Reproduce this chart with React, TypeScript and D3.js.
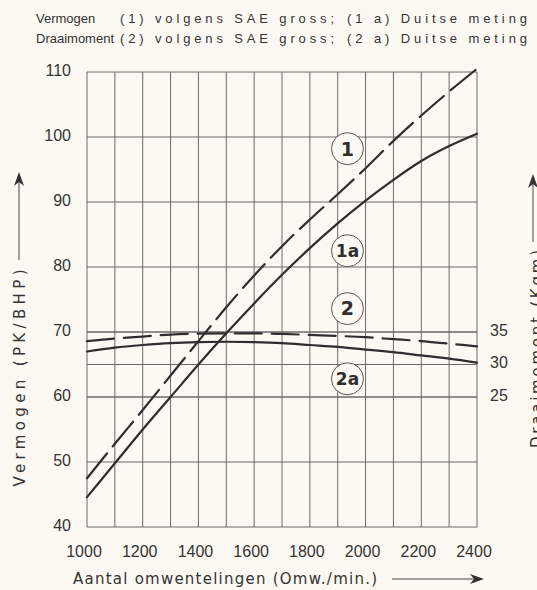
import React, { useEffect } from 'react';
import * as d3 from 'd3';

// rpm grid (every 100 omw./min.)
const rpm = [1000, 1100, 1200, 1300, 1400, 1500, 1600, 1700, 1800, 1900, 2000, 2100, 2200, 2300, 2400];
const rpmLabels = [1000, 1200, 1400, 1600, 1800, 2000, 2200, 2400];
const pkTicks = [40, 50, 60, 70, 80, 90, 100, 110];
const kgmTicks = [25, 30, 35];

// (1) vermogen SAE gross, (1a) Duitse meting  -- PK
const pkSae = [47.5, 52.8, 58.0, 63.3, 68.6, 73.8, 78.7, 83.2, 87.3, 91.2, 95.2, 99.4, 103.3, 107.0, 110.5];
const pkDin = [44.6, 49.8, 55.0, 60.0, 65.0, 69.8, 74.4, 78.8, 82.9, 86.7, 90.2, 93.4, 96.3, 98.6, 100.5];
// (2) draaimoment SAE gross, (2a) Duitse meting -- kgm
const kgmSae = [33.6, 34.0, 34.3, 34.6, 34.75, 34.8, 34.8, 34.7, 34.55, 34.4, 34.2, 33.9, 33.6, 33.2, 32.8];
const kgmDin = [32.0, 32.6, 33.0, 33.3, 33.45, 33.5, 33.45, 33.3, 33.0, 32.7, 32.3, 31.9, 31.4, 30.9, 30.3];

// circled curve labels
const curveLabels = ['1', '1a', '2', '2a'];
const labelRpm = [1935, 1935, 1935, 1935];
const labelPk = [98.2, 82.5, 73.6, 62.8];

const legendLeft = ['Vermogen', 'Draaimoment'];
const legendMid = ['(1) volgens SAE gross;', '(2) volgens SAE gross;'];
const legendRight = ['(1 a) Duitse meting', '(2 a) Duitse meting'];

const W = 537;
const H = 590;
const ink = '#2e2e2e';
const grid = '#6a6a6a';
const bg = '#fbf9f1';
const font = 'DejaVu Sans, sans-serif';
const numFont = 'Liberation Sans, Arial, sans-serif';

export default function App() {
  useEffect(() => {
    document.body.style.margin = '0';
    document.body.style.background = bg;
  }, []);

  const x = d3.scaleLinear().domain([1000, 2400]).range([87, 477]);
  const y = d3.scaleLinear().domain([40, 110]).range([527, 72]);
  const yT = d3.scaleLinear().domain([25, 35]).range([y(60), y(70)]);

  const pkLine = d3.line<number>().x((d, i) => x(rpm[i])).y(d => y(d)).curve(d3.curveMonotoneX);
  const kgmLine = d3.line<number>().x((d, i) => x(rpm[i])).y(d => yT(d)).curve(d3.curveMonotoneX);

  const [x0, x1] = x.range();
  const [yb, yt] = y.range();

  return (
    <svg width={W} height={H} style={{ display: 'block', background: bg }}>
      {/* legend */}
      {legendLeft.map((t, i) => (
        <g key={t} fill="#333" fontFamily={numFont} fontSize={13}>
          <text x={36} y={23 + i * 20}>{t}</text>
          <text x={120} y={23 + i * 20} textLength={214} lengthAdjust="spacing">{legendMid[i]}</text>
          <text x={347} y={23 + i * 20} textLength={180} lengthAdjust="spacing">{legendRight[i]}</text>
        </g>
      ))}

      {/* grid */}
      <g stroke={grid} strokeWidth={1}>
        {rpm.map(r => (
          <line key={r} x1={x(r)} x2={x(r)} y1={yt} y2={yb} />
        ))}
        {pkTicks.map(p => (
          <line key={p} x1={x0} x2={x1} y1={y(p)} y2={y(p)} />
        ))}
        {kgmTicks.map(t => (
          <line key={t} x1={x0} x2={x1} y1={yT(t)} y2={yT(t)} />
        ))}
      </g>

      {/* curves */}
      <g fill="none" stroke={ink} strokeWidth={2.2} strokeLinecap="round">
        <path d={pkLine(pkSae) || ''} strokeDasharray="32 9" />
        <path d={pkLine(pkDin) || ''} />
        <path d={kgmLine(kgmSae) || ''} strokeDasharray="27 10" />
        <path d={kgmLine(kgmDin) || ''} />
      </g>

      {/* circled labels */}
      {curveLabels.map((t, i) => (
        <g key={t} transform={`translate(${x(labelRpm[i])},${y(labelPk[i])})`}>
          <circle r={16} fill={bg} stroke="#555" strokeWidth={1} />
          <text textAnchor="middle" dy="0.36em" fontFamily={font} fontWeight="bold" fontSize={t.length > 1 ? 17 : 19} fill={ink}>
            {t}
          </text>
        </g>
      ))}

      {/* left axis labels */}
      <g fontFamily={numFont} fontSize={16} fill="#333" textAnchor="end">
        {pkTicks.map(p => (
          <text key={p} x={71} y={y(p) - 2} dy="0.35em">{p}</text>
        ))}
      </g>
      {/* right axis labels */}
      <g fontFamily={numFont} fontSize={16} fill="#333">
        {kgmTicks.map(t => (
          <text key={t} x={490} y={yT(t) - 2} dy="0.35em">{t}</text>
        ))}
      </g>
      {/* bottom axis labels */}
      <g fontFamily={numFont} fontSize={16} fill="#333" textAnchor="middle">
        {rpmLabels.map(r => (
          <text key={r} x={x(r) - 3} y={557}>{r}</text>
        ))}
      </g>

      {/* axis titles */}
      <text x={73} y={584} fontFamily={font} fontSize={15} fill="#333" textLength={304} lengthAdjust="spacing">
        Aantal omwentelingen (Omw./min.)
      </text>
      <line x1={392} x2={480} y1={579} y2={579} stroke="#444" strokeWidth={1} />
      <path d="M470,574 L484,579 L470,584 L474,579 Z" fill="#333" />

      <text transform="translate(25,378) rotate(-90)" textAnchor="middle" fontFamily={font} fontSize={15} fill="#333"
        textLength={217} lengthAdjust="spacing">
        Vermogen (PK/BHP)
      </text>
      <line x1={19} x2={19} y1={260} y2={176} stroke="#444" strokeWidth={1} />
      <path d="M14,186 L19,172 L24,186 L19,182 Z" fill="#333" />

      <text transform="translate(542,349) rotate(-90)" textAnchor="middle" fontFamily={font} fontSize={15} fill="#333"
        textLength={198} lengthAdjust="spacing">
        Draaimoment (Kgm)
      </text>
      <line x1={533} x2={533} y1={242} y2={178} stroke="#444" strokeWidth={1} />
      <path d="M528,188 L533,174 L538,188 L533,184 Z" fill="#333" />
    </svg>
  );
}
